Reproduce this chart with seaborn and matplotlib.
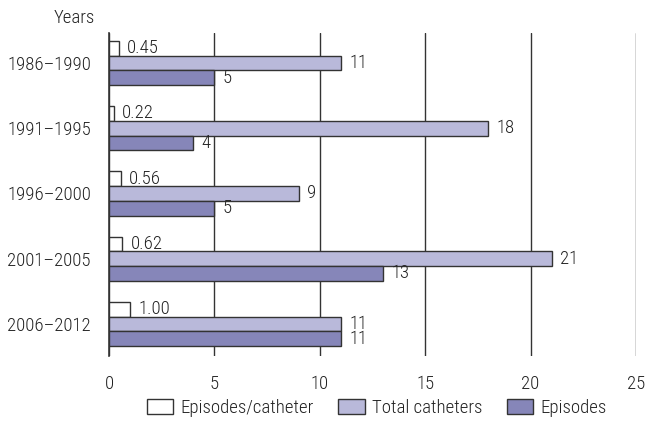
import pandas as pd
import seaborn as sns
import matplotlib.pyplot as plt

periods = ['1986–1990', '1991–1995', '1996–2000', '2001–2005', '2006–2012']
episodes_per_catheter = [0.45, 0.22, 0.56, 0.62, 1.00]
total_catheters = [11, 18, 9, 21, 11]
episodes = [5, 4, 5, 13, 11]
series = ['Episodes/catheter', 'Total catheters', 'Episodes']
value_fmt = ['{:.2f}', '{:.0f}', '{:.0f}']

df = pd.DataFrame({
    'Years': periods * 3,
    'Series': [s for s in series for _ in periods],
    'Value': episodes_per_catheter + total_catheters + episodes,
})

sns.set_style('white')
plt.rcParams['font.family'] = ['Roboto Condensed', 'Roboto', 'DejaVu Sans']
plt.rcParams['font.weight'] = 'light'
plt.rcParams['text.color'] = '#222222'
FS = 13.5

fig = plt.figure(figsize=(6.49, 4.33), dpi=100)
ax = fig.add_axes([0.168, 0.178, 0.812, 0.746])

palette = ['#ffffff', '#b9b9da', '#8686b9']
sns.barplot(data=df, y='Years', x='Value', hue='Series', hue_order=series,
            order=periods, palette=palette, saturation=1, width=0.68, gap=0,
            edgecolor='#333333', linewidth=1, ax=ax, orient='h')

for cont, fmt in zip(ax.containers, value_fmt):
    ax.bar_label(cont, labels=[fmt.format(v) for v in cont.datavalues],
                 padding=6, fontsize=FS, color='#222222')

ax.set_xlim(0, 25)
ax.set_ylim(4.49, -0.46)
ax.set_xticks([0, 5, 10, 15, 20, 25])
ax.set_xlabel('')
ax.set_ylabel('')
ax.set_axisbelow(True)
ax.grid(axis='x', color='#333333', linewidth=1)
ax.grid(axis='y', visible=False)
for side in ['top', 'right', 'bottom']:
    ax.spines[side].set_visible(False)
ax.spines['left'].set_color('#333333')
ax.spines['left'].set_linewidth(1.2)
ax.tick_params(axis='both', length=0, labelsize=FS, colors='#222222')
ax.tick_params(axis='y', pad=13)
ax.tick_params(axis='x', pad=14)

fig.text(95 / 649, 1 - 18 / 433, 'Years', ha='right', va='center', fontsize=FS)

ax.legend(loc='center', bbox_to_anchor=(377 / 649, 1 - 408 / 433), bbox_transform=fig.transFigure,
          ncol=3, frameon=False, fontsize=FS, handlelength=1.4, handleheight=0.8,
          columnspacing=1.3, handletextpad=0.4)

fig.savefig('out.png', dpi=100)
